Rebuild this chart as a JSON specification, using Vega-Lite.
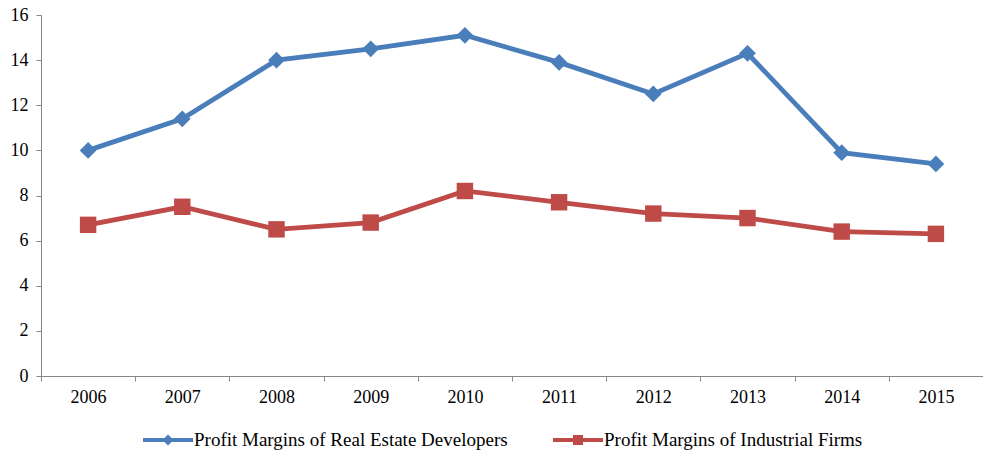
{
  "$schema": "https://vega.github.io/schema/vega-lite/v6.json",
  "width": 942,
  "height": 361,
  "autosize": {"type": "none"},
  "padding": {"left": 41, "top": 15, "right": 0, "bottom": 75},
  "background": "white",
  "config": {
    "view": {"stroke": null},
    "font": "Times New Roman, Liberation Serif, serif",
    "axis": {
      "domainColor": "#868686",
      "tickColor": "#868686",
      "grid": false,
      "labelFont": "Times New Roman, Liberation Serif, serif",
      "labelFontSize": 18,
      "labelColor": "#000000",
      "tickSize": 5,
      "title": null
    }
  },
  "data": {
    "values": [
      {"year": "2006", "series": "Profit Margins of Real Estate Developers", "value": 10.0},
      {"year": "2007", "series": "Profit Margins of Real Estate Developers", "value": 11.4},
      {"year": "2008", "series": "Profit Margins of Real Estate Developers", "value": 14.0},
      {"year": "2009", "series": "Profit Margins of Real Estate Developers", "value": 14.5},
      {"year": "2010", "series": "Profit Margins of Real Estate Developers", "value": 15.1},
      {"year": "2011", "series": "Profit Margins of Real Estate Developers", "value": 13.9},
      {"year": "2012", "series": "Profit Margins of Real Estate Developers", "value": 12.5},
      {"year": "2013", "series": "Profit Margins of Real Estate Developers", "value": 14.3},
      {"year": "2014", "series": "Profit Margins of Real Estate Developers", "value": 9.9},
      {"year": "2015", "series": "Profit Margins of Real Estate Developers", "value": 9.4},
      {"year": "2006", "series": "Profit Margins of Industrial Firms", "value": 6.7},
      {"year": "2007", "series": "Profit Margins of Industrial Firms", "value": 7.5},
      {"year": "2008", "series": "Profit Margins of Industrial Firms", "value": 6.5},
      {"year": "2009", "series": "Profit Margins of Industrial Firms", "value": 6.8},
      {"year": "2010", "series": "Profit Margins of Industrial Firms", "value": 8.2},
      {"year": "2011", "series": "Profit Margins of Industrial Firms", "value": 7.7},
      {"year": "2012", "series": "Profit Margins of Industrial Firms", "value": 7.2},
      {"year": "2013", "series": "Profit Margins of Industrial Firms", "value": 7.0},
      {"year": "2014", "series": "Profit Margins of Industrial Firms", "value": 6.4},
      {"year": "2015", "series": "Profit Margins of Industrial Firms", "value": 6.3}
    ]
  },
  "encoding": {
    "x": {
      "field": "year",
      "type": "ordinal",
      "scale": {"type": "band", "paddingInner": 0, "paddingOuter": 0},
      "axis": {"labelAngle": 0, "tickBand": "extent", "labelPadding": 7}
    },
    "y": {
      "field": "value",
      "type": "quantitative",
      "scale": {"domain": [0, 16], "nice": false},
      "axis": {"values": [0, 2, 4, 6, 8, 10, 12, 14, 16], "labelPadding": 8}
    }
  },
  "layer": [
    {
      "mark": {"type": "line", "strokeWidth": 4.8},
      "encoding": {
        "color": {
          "field": "series",
          "type": "nominal",
          "sort": ["Profit Margins of Real Estate Developers", "Profit Margins of Industrial Firms"],
          "scale": {
            "domain": ["Profit Margins of Real Estate Developers", "Profit Margins of Industrial Firms"],
            "range": ["#4A7EBB", "#BE4B48"]
          },
          "legend": {
            "title": null,
            "orient": "none",
            "direction": "horizontal",
            "legendX": 102,
            "legendY": 400,
            "columns": 2,
            "columnPadding": 45,
            "labelFont": "Times New Roman, Liberation Serif, serif",
            "labelFontSize": 19,
            "labelColor": "#000000",
            "labelLimit": 0,
            "labelOffset": 1,
            "symbolSize": 2500,
            "symbolStrokeWidth": 0,
            "symbolOpacity": 1,
            "encode": {
              "symbols": {
                "update": {
                  "shape": {"signal": "datum.value === 'Profit Margins of Real Estate Developers' ? 'M-1,-0.08H1V0.08H-1Z M0,-0.22L0.22,0L0,0.22L-0.22,0Z' : 'M-1,-0.08H1V0.08H-1Z M-0.2,-0.2H0.2V0.2H-0.2Z'"},
                  "size": {"value": 2500},
                  "fill": {"signal": "scale('color', datum.value)"},
                  "fillOpacity": {"value": 1},
                  "strokeWidth": {"value": 0}
                }
              }
            }
          }
        }
      }
    },
    {
      "transform": [{"filter": "datum.series === 'Profit Margins of Real Estate Developers'"}],
      "mark": {"type": "point", "filled": true, "opacity": 1, "shape": "diamond", "size": 280, "color": "#4A7EBB"}
    },
    {
      "transform": [{"filter": "datum.series === 'Profit Margins of Industrial Firms'"}],
      "mark": {"type": "point", "filled": true, "opacity": 1, "shape": "square", "size": 270, "color": "#BE4B48"}
    }
  ]
}
